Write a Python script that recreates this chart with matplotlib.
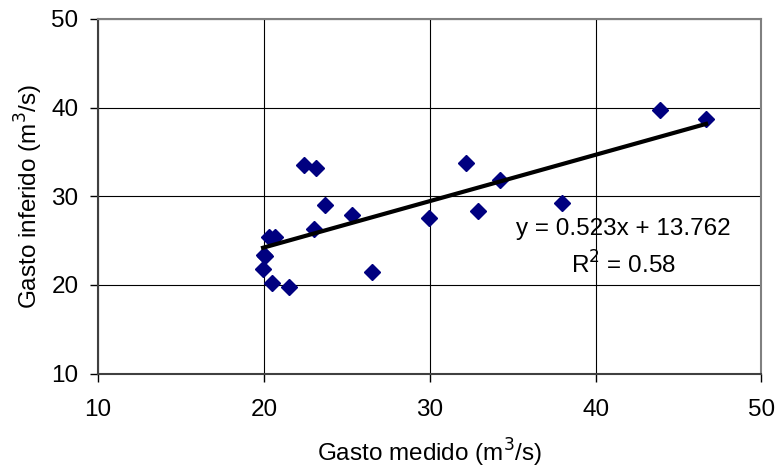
import numpy as np
import matplotlib
matplotlib.use("Agg")
import matplotlib.pyplot as plt

plt.rcParams["font.family"] = ["Liberation Sans", "DejaVu Sans"]

# Gasto medido vs gasto inferido (m3/s)
gasto_medido = [20.0, 19.95, 20.09, 20.29, 20.69, 20.49, 21.49, 22.39, 23.15,
                23.03, 23.7, 25.33, 26.53, 29.96, 32.2, 32.94, 34.25, 37.99,
                43.87, 46.66]
gasto_inferido = [23.4, 21.76, 23.26, 25.43, 25.36, 20.19, 19.74, 33.5, 33.2,
                  26.3, 29.07, 27.87, 21.43, 27.5, 33.78, 28.35, 31.8, 29.25,
                  39.78, 38.73]

PENDIENTE = 0.523
ORDENADA = 13.762
R2 = 0.58

fig = plt.figure(figsize=(7.75, 4.72), dpi=100)
ax = fig.add_axes([0.1265, 0.2085, 0.856, 0.7513])

ax.plot(gasto_medido, gasto_inferido, linestyle="none", marker="D",
        markersize=8.5, color="#000080", zorder=3)

xl = np.array([min(gasto_medido), max(gasto_medido)])
ax.plot(xl, PENDIENTE * xl + ORDENADA, color="black", linewidth=3, zorder=4)

ax.text(41.7, 26.3, "y = %.3fx + %.3f" % (PENDIENTE, ORDENADA),
        ha="center", va="center", fontsize=17.5)
ax.text(41.7, 22.25, "R$^2$ = %.2f" % R2, ha="center", va="center", fontsize=17.5)

ax.set_xlim(10, 50)
ax.set_ylim(10, 50)
ax.set_xticks([10, 20, 30, 40, 50])
ax.set_yticks([10, 20, 30, 40, 50])
ax.grid(True, color="black", linewidth=0.8)
ax.set_axisbelow(True)
ax.tick_params(direction="out", length=6, width=1, labelsize=17.5)
ax.tick_params(axis="x", pad=12)
ax.tick_params(axis="y", pad=8)

for s in ["left", "bottom"]:
    ax.spines[s].set_color("#404040")
    ax.spines[s].set_linewidth(1.5)
for s in ["top", "right"]:
    ax.spines[s].set_color("#808080")
    ax.spines[s].set_linewidth(1.5)

ax.set_xlabel("Gasto medido (m$^3$/s)", fontsize=17.5, labelpad=12)
ax.set_ylabel("Gasto inferido (m$^3$/s)", fontsize=17.5, labelpad=5)

fig.savefig("out.png", dpi=100)
